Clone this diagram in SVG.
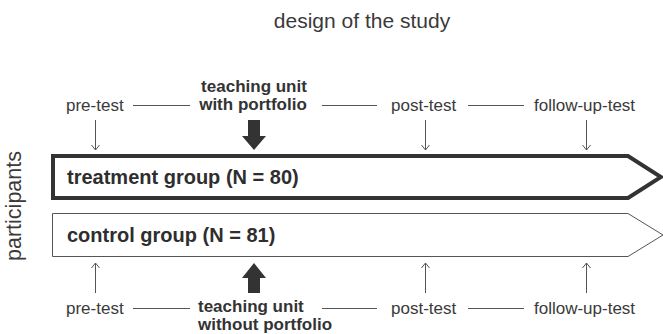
<svg xmlns="http://www.w3.org/2000/svg" width="663" height="334" viewBox="0 0 663 334">
<style>
text{font-family:"Liberation Sans",Arial,sans-serif;fill:#3a3a3a}
.lbl{font-size:17px}
.b{font-weight:bold;font-size:17px;fill:#333}
.grp{font-weight:bold;font-size:20px;fill:#2e2e2e}
.ln{stroke:#555;stroke-width:1;fill:none}
.blk{fill:#333}
</style>
<defs>
<marker id="ah" markerWidth="10" markerHeight="10" refX="9" refY="5" orient="auto-start-reverse" markerUnits="userSpaceOnUse" viewBox="0 0 10 10">
<path d="M4,1 L9,5 L4,9" fill="none" stroke="#555" stroke-width="1"/>
</marker>
</defs>
<rect width="663" height="334" fill="#fff"/>
<text x="362" y="28" text-anchor="middle" style="font-size:21px">design of the study</text>
<text transform="translate(21,206) rotate(-90)" text-anchor="middle" style="font-size:21.5px">participants</text>

<g id="treatment">
<path d="M53,156 H628 L661,177 L628,198 H53 Z" fill="#fff" stroke="#333" stroke-width="4" stroke-linejoin="miter"/>
<text class="grp" x="67" y="184">treatment group (N = 80)</text>
</g>
<g id="control">
<path d="M52.5,213.5 H628 L663,235 L628,256.5 H52.5 Z" fill="#fff" stroke="#555" stroke-width="1"/>
<text class="grp" x="67" y="242">control group (N = 81)</text>
</g>

<g id="top-labels">
<text class="lbl" x="66" y="111">pre-test</text>
<text class="b" x="254" y="92" text-anchor="middle">teaching unit</text>
<text class="b" x="253" y="110" text-anchor="middle">with portfolio</text>
<text class="lbl" x="391" y="111">post-test</text>
<text class="lbl" x="534" y="111">follow-up-test</text>
</g>
<g id="bottom-labels">
<text class="lbl" x="66" y="314">pre-test</text>
<text class="b" x="198" y="312">teaching unit</text>
<text class="b" x="198" y="330">without portfolio</text>
<text class="lbl" x="391" y="314">post-test</text>
<text class="lbl" x="534" y="314">follow-up-test</text>
</g>

<g id="connectors">
<line class="ln" x1="133" y1="105.5" x2="190" y2="105.5"/>
<line class="ln" x1="322" y1="105.5" x2="377" y2="105.5"/>
<line class="ln" x1="468" y1="105.5" x2="524" y2="105.5"/>
<line class="ln" x1="133" y1="308.5" x2="190" y2="308.5"/>
<line class="ln" x1="322" y1="308.5" x2="377" y2="308.5"/>
<line class="ln" x1="468" y1="308.5" x2="524" y2="308.5"/>

<line class="ln" x1="95.5" y1="120" x2="95.5" y2="150" marker-end="url(#ah)"/>
<line class="ln" x1="425.5" y1="120" x2="425.5" y2="150" marker-end="url(#ah)"/>
<line class="ln" x1="586.5" y1="120" x2="586.5" y2="150" marker-end="url(#ah)"/>
<line class="ln" x1="95.5" y1="293" x2="95.5" y2="263" marker-end="url(#ah)"/>
<line class="ln" x1="425.5" y1="293" x2="425.5" y2="263" marker-end="url(#ah)"/>
<line class="ln" x1="586.5" y1="293" x2="586.5" y2="263" marker-end="url(#ah)"/>

<path class="blk" d="M248,120 H260 V136 H266 L254,150 L242,136 H248 Z"/>
<path class="blk" d="M248,293 H260 V278 H266 L254,263 L242,278 H248 Z"/>
</g>
</svg>
